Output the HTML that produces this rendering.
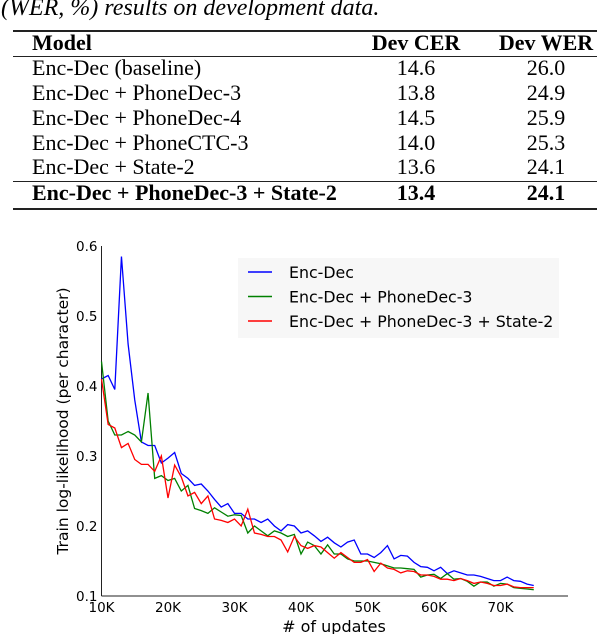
<!DOCTYPE html>
<html><head><meta charset="utf-8"><style>
body{margin:0;width:610px;height:634px;background:#fff;position:relative;overflow:hidden}
.cap{position:absolute;left:1px;top:-5px;font:italic 24px "Liberation Serif",serif;color:#000;white-space:nowrap}
.rule{position:absolute;left:13px;width:584px;background:#222}
.row{position:absolute;left:0;width:610px;height:26px;font:22px "Liberation Serif",serif;color:#000;white-space:nowrap}
.row span{position:absolute;top:0;line-height:26px;white-space:nowrap}
.m{left:32px}.c{left:356px;width:120px;text-align:center}.w{left:486px;width:120px;text-align:center}
.b{font-weight:bold}
</style></head><body>
<div class="cap">(WER, %) results on development data.</div>
<div class="rule" style="top:30px;height:2px"></div>
<div class="rule" style="top:56px;height:1px"></div>
<div class="rule" style="top:181px;height:1px"></div>
<div class="rule" style="top:208px;height:2px"></div>
<div class="row b" style="top:30px"><span class="m">Model</span><span class="c">Dev CER</span><span class="w">Dev WER</span></div>
<div class="row" style="top:55px"><span class="m">Enc-Dec (baseline)</span><span class="c">14.6</span><span class="w">26.0</span></div>
<div class="row" style="top:80px"><span class="m">Enc-Dec + PhoneDec-3</span><span class="c">13.8</span><span class="w">24.9</span></div>
<div class="row" style="top:105px"><span class="m">Enc-Dec + PhoneDec-4</span><span class="c">14.5</span><span class="w">25.9</span></div>
<div class="row" style="top:130px"><span class="m">Enc-Dec + PhoneCTC-3</span><span class="c">14.0</span><span class="w">25.3</span></div>
<div class="row" style="top:154px"><span class="m">Enc-Dec + State-2</span><span class="c">13.6</span><span class="w">24.1</span></div>
<div class="row b" style="top:180px"><span class="m">Enc-Dec + PhoneDec-3 + State-2</span><span class="c">13.4</span><span class="w">24.1</span></div>

<svg id="chart" width="610" height="634" style="position:absolute;left:0;top:0"></svg>
<script>
const steps=[];for(let k=10;k<=75;k++)steps.push(k);
const encDec=[0.41,0.415,0.395,0.585,0.46,0.38,0.32,0.315,0.315,0.29,0.297,0.305,0.275,0.268,0.258,0.26,0.25,0.238,0.227,0.232,0.218,0.218,0.21,0.21,0.205,0.21,0.2,0.193,0.202,0.2,0.19,0.193,0.186,0.178,0.184,0.176,0.17,0.177,0.18,0.16,0.16,0.155,0.162,0.172,0.153,0.158,0.157,0.148,0.142,0.141,0.136,0.141,0.132,0.136,0.133,0.13,0.13,0.128,0.125,0.122,0.122,0.127,0.122,0.121,0.117,0.115];
const phoneDec=[0.435,0.35,0.33,0.33,0.335,0.33,0.32,0.39,0.268,0.272,0.265,0.268,0.25,0.258,0.225,0.222,0.218,0.226,0.22,0.214,0.216,0.215,0.19,0.2,0.193,0.186,0.193,0.19,0.185,0.188,0.16,0.177,0.172,0.16,0.173,0.16,0.16,0.153,0.15,0.15,0.15,0.148,0.146,0.143,0.14,0.14,0.139,0.138,0.127,0.13,0.131,0.125,0.132,0.124,0.125,0.121,0.114,0.12,0.12,0.114,0.118,0.117,0.112,0.111,0.11,0.109];
const phoneState=[0.41,0.345,0.34,0.312,0.318,0.295,0.288,0.288,0.278,0.3,0.24,0.287,0.27,0.243,0.248,0.232,0.243,0.21,0.208,0.205,0.21,0.2,0.224,0.19,0.188,0.185,0.185,0.18,0.163,0.185,0.172,0.168,0.172,0.17,0.162,0.154,0.162,0.155,0.148,0.148,0.152,0.135,0.147,0.14,0.138,0.133,0.136,0.135,0.13,0.13,0.128,0.124,0.124,0.122,0.125,0.122,0.118,0.12,0.118,0.115,0.115,0.117,0.113,0.112,0.112,0.112];
const xTicks=[10,20,30,40,50,60,70];
const xTickLabels=["10K","20K","30K","40K","50K","60K","70K"];
const yTicks=[0.1,0.2,0.3,0.4,0.5,0.6];
const seriesNames=["Enc-Dec","Enc-Dec + PhoneDec-3","Enc-Dec + PhoneDec-3 + State-2"];
const seriesColors=["#0000ff","#008000","#ff0000"];

const svg=document.getElementById('chart');const NS='http://www.w3.org/2000/svg';
const X=k=>101.5+(k-10)*6.65;const Y=v=>596-(v-0.1)*700;
function mk(t,a,p){const e=document.createElementNS(NS,t);for(const k in a)e.setAttribute(k,a[k]);(p||svg).appendChild(e);return e;}
let e;
e=mk('line',{x1:X(10),y1:Y(0.1),x2:568,y2:Y(0.1),stroke:'#222','stroke-width':1});


e=mk('line',{x1:X(10),y1:Y(0.1),x2:X(10),y2:Y(0.6),stroke:'#222','stroke-width':1});


xTicks.forEach((k,i)=>{e=mk('text',{x:X(k),y:612,'text-anchor':'middle','font-family':'DejaVu Sans, sans-serif','font-size':13.5});e.textContent=xTickLabels[i];

});
yTicks.forEach(v=>{e=mk('text',{x:X(10)-4,y:Y(v)+5,'text-anchor':'end','font-family':'DejaVu Sans, sans-serif','font-size':13.5});e.textContent=v.toFixed(1);

});
e=mk('text',{x:334,y:632,'text-anchor':'middle','font-family':'DejaVu Sans, sans-serif','font-size':16});e.textContent='# of updates';


e=mk('text',{x:0,y:0,transform:'translate(68,421) rotate(-90)','text-anchor':'middle','font-family':'DejaVu Sans, sans-serif','font-size':15.5});e.textContent='Train log-likelihood (per character)';


[encDec,phoneDec,phoneState].forEach((s,i)=>{
 e=mk('polyline',{points:s.map((v,j)=>X(steps[j])+','+Y(v)).join(' '),fill:'none',stroke:seriesColors[i],'stroke-width':1.3});
 
 
});
e=mk('rect',{x:238,y:258,width:321,height:80,fill:'#f7f7f7'});


seriesNames.forEach((n,i)=>{const y=272+i*24.5;
 e=mk('line',{x1:248,y1:y,x2:272,y2:y,stroke:seriesColors[i],'stroke-width':1.5});
 
 
 e=mk('text',{x:289,y:y+6,'font-family':'DejaVu Sans, sans-serif','font-size':15.8});e.textContent=n;
 
 
});
</script>
</body></html>
